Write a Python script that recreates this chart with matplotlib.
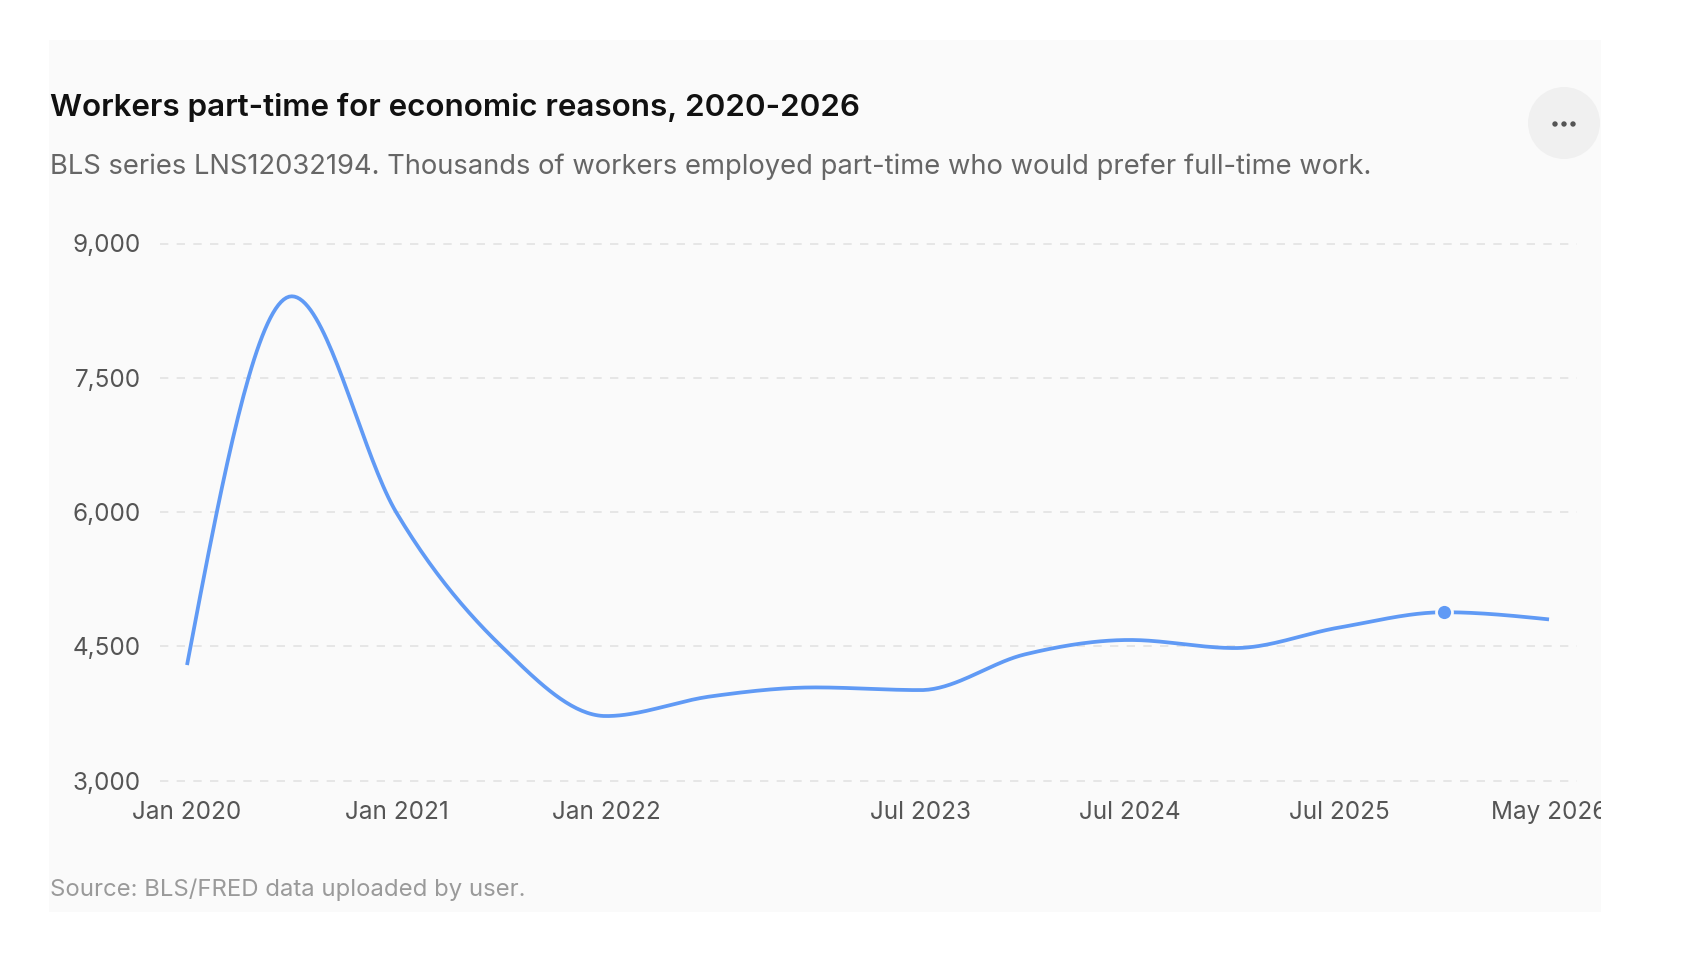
import numpy as np
import matplotlib
matplotlib.use("Agg")
import matplotlib.pyplot as plt
from matplotlib.patches import Rectangle, Circle

plt.rcParams['font.family'] = ['Inter', 'DejaVu Sans']

# data (thousands of workers)
periods = ['Jan 2020', 'Jul 2020', 'Jan 2021', 'Jul 2021', 'Jan 2022', 'Jul 2022', 'Jan 2023',
           'Jul 2023', 'Jan 2024', 'Jul 2024', 'Jan 2025', 'Jul 2025', 'Jan 2026', 'May 2026']
workers = [4290, 8410, 5990, 4500, 3720, 3940, 4040, 4010, 4410, 4570, 4480, 4710, 4880, 4800]
shown_ticks = ['Jan 2020', 'Jan 2021', 'Jan 2022', 'Jul 2023', 'Jul 2024', 'Jul 2025', 'May 2026']
y_ticks = [3000, 4500, 6000, 7500, 9000]
highlight = 'Jan 2026'

title = 'Workers part-time for economic reasons, 2020-2026'
subtitle = 'BLS series LNS12032194. Thousands of workers employed part-time who would prefer full-time work.'
source = 'Source: BLS/FRED data uploaded by user.'


def sgn(v):
    return -1.0 if v < 0 else 1.0


# monotone cubic curve (same idea as d3 curveMonotoneX)
def monotone_curve(xs, ys, n=40):
    xs = np.asarray(xs, float)
    ys = np.asarray(ys, float)
    m = len(xs)
    t = np.zeros(m)
    for i in range(1, m - 1):
        h0 = xs[i] - xs[i - 1]
        h1 = xs[i + 1] - xs[i]
        s0 = (ys[i] - ys[i - 1]) / h0
        s1 = (ys[i + 1] - ys[i]) / h1
        p = (s0 * h1 + s1 * h0) / (h0 + h1)
        t[i] = (sgn(s0) + sgn(s1)) * min(abs(s0), abs(s1), 0.5 * abs(p))
    h = xs[1] - xs[0]
    t[0] = (3 * (ys[1] - ys[0]) / h - t[1]) / 2
    h = xs[-1] - xs[-2]
    t[-1] = (3 * (ys[-1] - ys[-2]) / h - t[-2]) / 2
    out_x, out_y = [], []
    for i in range(m - 1):
        h = xs[i + 1] - xs[i]
        u = np.linspace(0, 1, n)
        h00 = 2 * u**3 - 3 * u**2 + 1
        h10 = u**3 - 2 * u**2 + u
        h01 = -2 * u**3 + 3 * u**2
        h11 = u**3 - u**2
        out_x.extend(xs[i] + u * h)
        out_y.extend(h00 * ys[i] + h10 * h * t[i] + h01 * ys[i + 1] + h11 * h * t[i + 1])
    return np.array(out_x), np.array(out_y)


W, H = 1696, 956
fig = plt.figure(figsize=(W / 100, H / 100), dpi=100)
fig.patch.set_facecolor('white')

# light card behind everything
card = Rectangle((48.7 / W, 1 - 912 / H), (1601 - 48.7) / W, (912 - 40) / H,
                 transform=fig.transFigure, facecolor='#fafafa', edgecolor='none', zorder=-5)
fig.patches.append(card)

# menu button top right
fig.patches.append(Circle((1564, H - 123), 36, transform=None, facecolor='#f0f0f0',
                          edgecolor='none', zorder=1))
for dx in (-9, 0, 9):
    fig.patches.append(Circle((1564 + dx, H - 124), 2.7, transform=None, facecolor='#555555',
                              edgecolor='none', zorder=2))

fig.text(50 / W, 1 - 107 / H, title, fontsize=22.6, fontweight='semibold', color='#111111',
         va='center', ha='left')
fig.text(50 / W, 1 - 167 / H, subtitle, fontsize=19.7, color='#666666', va='center', ha='left')
fig.text(50 / W, 1 - 890 / H, source, fontsize=17.2, color='#9a9a9a', va='center', ha='left')

ax = fig.add_axes([160 / W, 1 - 780.5 / H, (1577 - 160) / W, (780.5 - 243.5) / H])
ax.set_facecolor('none')

x = np.arange(len(periods))
cx, cy = monotone_curve(x, workers)
ax.plot(cx, cy, color='#609af5', lw=2.7, solid_capstyle='butt', zorder=3)

hi = periods.index(highlight)
ax.plot(x[hi], workers[hi], 'o', ms=11.5, color='#609af5', mec='#fafafa', mew=2, zorder=4)

ax.set_ylim(3000, 9000)
ax.set_xlim(-0.258, 13.267)
ax.set_yticks(y_ticks)
ax.set_yticklabels([f'{v:,}' for v in y_ticks])
ax.set_xticks([periods.index(p) for p in shown_ticks])
ax.set_xticklabels(shown_ticks)
ax.tick_params(axis='both', length=0, labelsize=17.5, labelcolor='#555555')
ax.tick_params(axis='y', pad=14)
ax.tick_params(axis='x', pad=15)

for s in ax.spines.values():
    s.set_visible(False)
for v in y_ticks:
    ax.axhline(v, color='#e2e2e2', lw=1.2, dashes=(5, 5), zorder=1, clip_on=False)

# the last tick label is cut by the card edge
for lab in ax.get_xticklabels():
    lab.set_clip_path(card)

fig.savefig('out.png', dpi=100, facecolor=fig.get_facecolor())
